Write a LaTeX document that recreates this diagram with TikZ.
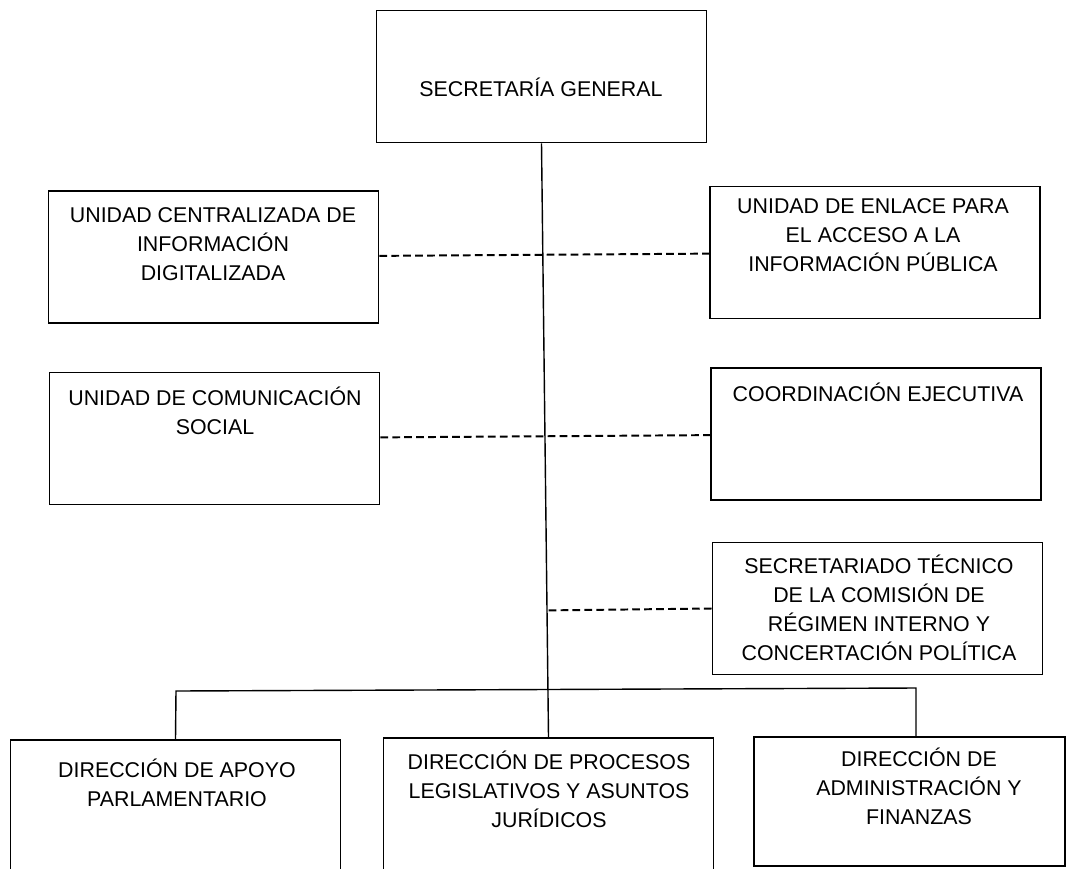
\documentclass[tikz,border=0pt]{standalone}
\usepackage{fontspec}
\setmainfont{Liberation Sans}
\usetikzlibrary{positioning,calc}

\begin{document}
\begin{tikzpicture}[x=0.025cm, y=-0.025cm,
	unit/.style={rectangle, draw, line width=1.1pt, minimum width=8.25cm, minimum height=3.3cm, inner sep=0pt},
	unittext/.style={align=center, font=\fontsize{15.2}{20.5}\selectfont, inner sep=0pt},
	link/.style={line width=1pt},
	dashlink/.style={line width=1.4pt, dash pattern=on 5.5pt off 3pt}]
						\clip (0,0) rectangle (1070,868);
						\fill[white] (0,0) rectangle (1070,868);
						\node[unit] (sg) at (541.5,76.5) {};
						\node[unit] (ucid) at (213.5,257) {};
						\node[unit] (ueaip) at (875,252.5) {};
						\node[unit] (ucs) at (214.5,438.5) {};
						\node[unit] (ce) at (876,434) {};
						\node[unit] (st) at (877.5,608.5) {};
						\node[unit] (dap) at (175.5,806) {};
						\node[unit] (dpl) at (548.5,804) {};
						\node[unit, minimum width=7.775cm, minimum height=3.225cm] (daf) at (909.5,801.5) {};

						\node[unittext] (sg-t) at (541,87) {SECRETARÍA GENERAL};
						\node[unittext] (ucid-t) at (213,244) {UNIDAD CENTRALIZADA DE\\INFORMACIÓN\\DIGITALIZADA};
						\node[unittext] (ueaip-t) at (873,235) {UNIDAD DE ENLACE PARA\\EL ACCESO A LA\\INFORMACIÓN PÚBLICA};
						\node[unittext] (ucs-t) at (215,411) {UNIDAD DE COMUNICACIÓN\\SOCIAL};
						\node[unittext] (ce-t) at (878,392) {COORDINACIÓN EJECUTIVA};
						\node[unittext] (st-t) at (879,608) {SECRETARIADO TÉCNICO\\DE LA COMISIÓN DE\\RÉGIMEN INTERNO Y\\CONCERTACIÓN POLÍTICA};
						\node[unittext] (dap-t) at (177,783) {DIRECCIÓN DE APOYO\\PARLAMENTARIO};
						\node[unittext] (dpl-t) at (549,789) {DIRECCIÓN DE PROCESOS\\LEGISLATIVOS Y ASUNTOS\\JURÍDICOS};
						\node[unittext] (daf-t) at (919,786) {DIRECCIÓN DE\\ADMINISTRACIÓN Y\\FINANZAS};

						\coordinate (busl) at (176,691);
						\coordinate (busr) at (916,688);
						\draw[link] (sg.south) -- (dpl.north);
						\draw[link] (dap.north) -- (busl) -- (busr) -- (busr |- daf.north);
						\draw[dashlink] (ucid) -- (ueaip);
						\draw[dashlink] (ucs) -- (ce);
						\draw[dashlink] (st.west) -- ($(sg.south)!(st.west)!(dpl.north)$);

					\end{tikzpicture}
\end{document}
